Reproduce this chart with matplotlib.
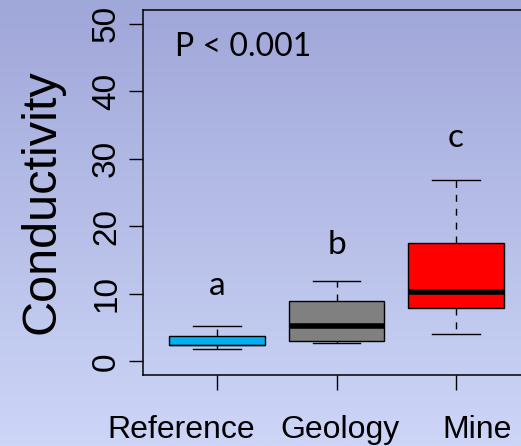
import numpy as np
import matplotlib
matplotlib.use('Agg')
import matplotlib.pyplot as plt
import matplotlib.transforms as mtransforms
from matplotlib.colors import LinearSegmentedColormap

# group summaries
groups = ['Reference', 'Geology', 'Mine']
lower_cap = [1.8, 2.7, 4.1]
q1 = [2.5, 3.0, 7.9]
medians = [2.5, 5.2, 10.3]
q3 = [3.7, 8.9, 17.5]
upper_cap = [5.2, 11.9, 26.9]
box_colors = ['#00B0F0', '#808080', '#FF0000']
letters = ['a', 'b', 'c']
letter_y = [11.1, 17.3, 33.0]
label_x = [0.70, 2.03, 3.18]

fig = plt.figure(figsize=(5.21, 4.46), dpi=100)

# background gradient
bg = fig.add_axes([0, 0, 1, 1], zorder=-10)
grad = np.linspace(0, 1, 256).reshape(-1, 1)
cmap = LinearSegmentedColormap.from_list('bg', ['#A0A7D9', '#CDD6F7'])
bg.imshow(grad, aspect='auto', cmap=cmap, extent=[0, 1, 0, 1])
bg.axis('off')

ax = fig.add_axes([143 / 521, 71 / 446, 387 / 521, 365 / 446])
ax.patch.set_visible(False)

stats = []
for i in range(len(groups)):
    stats.append({'whislo': lower_cap[i], 'q1': q1[i], 'med': medians[i],
                  'q3': q3[i], 'whishi': upper_cap[i], 'fliers': []})

bp = ax.bxp(stats, positions=[1, 2, 3], widths=0.8, patch_artist=True,
            showfliers=False,
            boxprops=dict(edgecolor='black', linewidth=1.0),
            medianprops=dict(color='black', linewidth=4.0, solid_capstyle='butt'),
            whiskerprops=dict(color='black', linewidth=1.0, linestyle=(0, (5, 5))),
            capprops=dict(color='black', linewidth=1.0),
            capwidths=0.4)
for patch, c in zip(bp['boxes'], box_colors):
    patch.set_facecolor(c)
# reference median sits on the box edge
bp['medians'][0].set_linewidth(1.0)

ax.set_xlim(0.38, 3.62)
ax.set_ylim(-2, 52)
ax.set_yticks([0, 10, 20, 30, 40, 50])
ax.set_xticks([1, 2, 3])
ax.set_xticklabels([])
for lbl in ax.get_yticklabels():
    lbl.set_rotation(90)
    lbl.set_va('center')
    lbl.set_fontfamily('Liberation Sans')
    lbl.set_fontsize(24)
ax.tick_params(axis='y', length=10, width=1, pad=5)
ax.tick_params(axis='x', length=11, width=1)
for s in ['left', 'top', 'bottom']:
    ax.spines[s].set_linewidth(1.1)
ax.spines['right'].set_visible(False)

for i, l in enumerate(letters):
    ax.text(i + 1, letter_y[i], l, ha='center', va='center',
            fontfamily='Lato', fontsize=24)

fig.text(175 / 521, 1 - 47 / 446, 'P < 0.001',
         ha='left', va='center', fontfamily='Lato', fontsize=23)

trans = mtransforms.blended_transform_factory(ax.transData, fig.transFigure)
for x, g in zip(label_x, groups):
    ax.text(x, 8 / 446, g, transform=trans, ha='center', va='baseline',
            fontfamily='Liberation Sans', fontsize=23, clip_on=False)

fig.text(42 / 521, 0.547, 'Conductivity', rotation=90, ha='center', va='center',
         fontfamily='Liberation Sans', fontsize=35)

fig.savefig('out.png', dpi=100)
